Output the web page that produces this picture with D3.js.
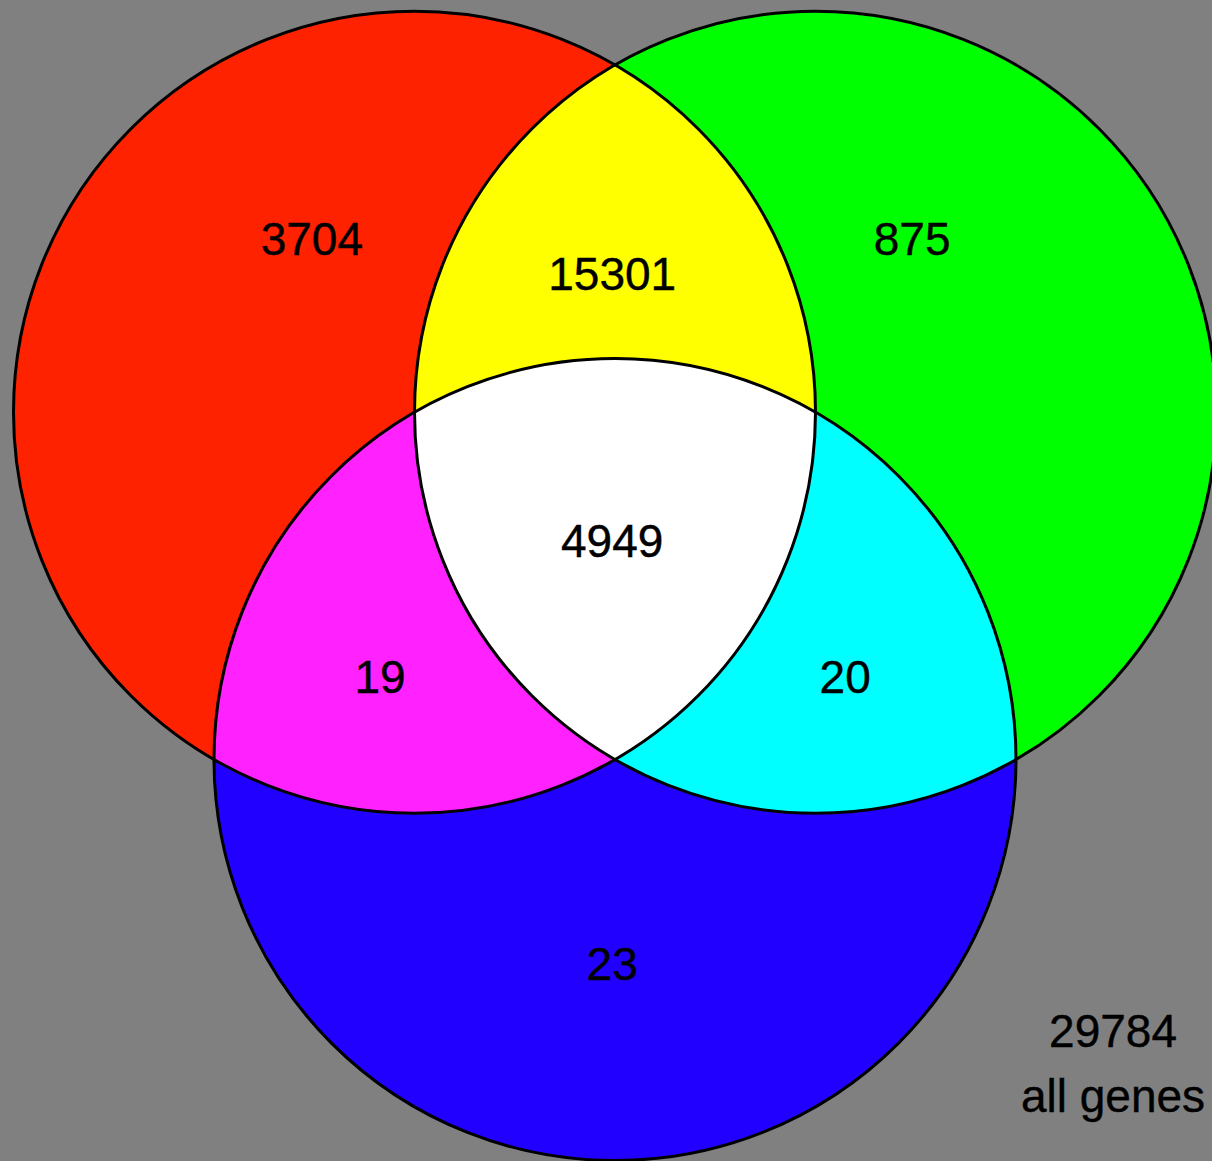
<!DOCTYPE html>
<html>
<head>
<meta charset="utf-8">
<script src="https://cdn.jsdelivr.net/npm/d3@7"></script>
<style>
  html, body { margin: 0; padding: 0; background: #808080; }
  svg { display: block; }
  text { font-family: "Liberation Sans", Arial, sans-serif; fill: #000; }
</style>
</head>
<body>
<svg id="chart"></svg>
<script>
"use strict";

// three sets, drawn as circles of equal size
const setColors = ["#ff2200", "#00ff00", "#2200ff"];

// region key: which sets a region belongs to (1 = inside)
const regionKeys = ["100", "110", "010", "101", "111", "011", "001"];
const regionCounts = [3704, 15301, 875, 19, 4949, 20, 23];
const regionColors = ["#ff2200", "#ffff00", "#00ff00", "#ff22ff", "#ffffff", "#00ffff", "#2200ff"];

const totalCount = 29784;
const totalLabel = "all genes";

const width = 1212;
const height = 1161;

// layout in circle-radius units, centroid of the three centres at 0,0
const h = Math.sqrt(3) / 2;
const centers = [[-0.5, -h / 3], [0.5, -h / 3], [0, 2 * h / 3]];
// label anchor points (same units)
const labelPos = [[-0.756, -0.723], [-0.007, -0.636], [0.741, -0.723],
                  [-0.586, 0.369], [-0.007, 0.032], [0.574, 0.369], [-0.007, 1.085]];
const totalPos = [[1.242, 1.254], [1.242, 1.414]];

const x = d3.scaleLinear().domain([-1, 1]).range([615 - 401, 615 + 401]);
const y = d3.scaleLinear().domain([-1, 1]).range([528 - 401, 528 + 401]);
const r = x(1) - x(0);

const svg = d3.select("#chart")
    .attr("width", width)
    .attr("height", height);

const defs = svg.append("defs");
defs.selectAll("clipPath")
    .data(centers)
    .enter()
    .append("clipPath")
    .attr("id", (d, i) => "clip-" + i)
    .append("circle")
    .attr("cx", d => x(d[0]))
    .attr("cy", d => y(d[1]))
    .attr("r", r);

// draw regions: singles first, then pairs, then the triple on top
let order = d3.range(regionKeys.length)
    .sort((a, b) => d3.sum(regionKeys[a], c => +c) - d3.sum(regionKeys[b], c => +c));

const fills = svg.append("g");
for (let i of order) {
    let inside = [];
    regionKeys[i].split("").forEach((c, k) => { if (c === "1") inside.push(k); });
    let g = fills;
    for (let k of inside) {
        g = g.append("g").attr("clip-path", "url(#clip-" + k + ")");
    }
    g.append("rect")
        .attr("width", width)
        .attr("height", height)
        .attr("fill", regionColors[i]);
}

svg.append("g")
    .selectAll("circle")
    .data(centers)
    .enter()
    .append("circle")
    .attr("cx", d => x(d[0]))
    .attr("cy", d => y(d[1]))
    .attr("r", r)
    .attr("fill", "none")
    .attr("stroke", "#000")
    .attr("stroke-width", 3);

svg.append("g")
    .selectAll("text")
    .data(regionCounts)
    .enter()
    .append("text")
    .attr("x", (d, i) => x(labelPos[i][0]))
    .attr("y", (d, i) => y(labelPos[i][1]))
    .attr("dy", "0.36em")
    .attr("text-anchor", "middle")
    .style("font-size", "46px")
    .style("stroke", "#000")
    .style("stroke-width", 0.4)
    .text(d => d);

svg.append("g")
    .selectAll("text")
    .data([totalCount, totalLabel])
    .enter()
    .append("text")
    .attr("x", (d, i) => x(totalPos[i][0]))
    .attr("y", (d, i) => y(totalPos[i][1]))
    .attr("dy", "0.36em")
    .attr("text-anchor", "middle")
    .style("font-size", "46px")
    .style("stroke", "#000")
    .style("stroke-width", 0.4)
    .text(d => d);
</script>
</body>
</html>
